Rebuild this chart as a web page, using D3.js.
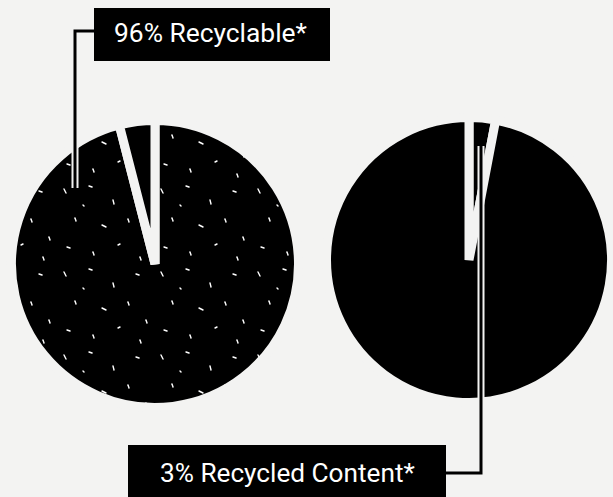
<!DOCTYPE html>
<html><head><meta charset="utf-8">
<script src="https://cdn.jsdelivr.net/npm/d3@7"></script>
<style>
html,body{margin:0;padding:0;background:#f3f3f2;}
svg{display:block;}
</style></head>
<body>
<svg id="chart" width="613" height="497"></svg>
<script>
// Data
const pieNames = ["Recyclable", "Recycled Content"];
const recyclableValues = [96, 4];       // left pie: recyclable, not recyclable
const recycledValues = [3, 97];         // right pie: recycled content, virgin
const labelTexts = ["96% Recyclable*", "3% Recycled Content*"];

const svg = d3.select("#chart");
const W = 613, H = 497;
const BG = "#f3f3f2";

svg.append("rect").attr("width", W).attr("height", H).attr("fill", BG);

// speckle texture pattern (decorative, fixed)
const defs = svg.append("defs");
const pat = defs.append("pattern").attr("id", "speckle")
  .attr("patternUnits", "userSpaceOnUse").attr("width", 97).attr("height", 83);
pat.append("rect").attr("width", 97).attr("height", 83).attr("fill", "#000");
const dashes = [[6,8,8,12],[31,5,34,6],[55,19,56,23],[78,10,81,11],[17,37,18,40],[44,44,48,46],
  [70,38,71,41],[88,56,89,59],[9,66,12,67],[35,71,36,74],[60,64,62,63],[82,76,83,79],[25,24,26,25]];
dashes.forEach(d => pat.append("line").attr("x1", d[0]).attr("y1", d[1]).attr("x2", d[2]).attr("y2", d[3])
  .attr("stroke", "#fff").attr("stroke-width", 1.4).attr("stroke-linecap", "round"));

const pie = d3.pie().sort(null).value(d => d);
const GAP = 9;

function drawPie(values, cx, cy, r, fills) {
  const arc = d3.arc().innerRadius(0).outerRadius(r + GAP / 2);
  const g = svg.append("g").attr("transform", `translate(${cx},${cy})`);
  g.selectAll("path").data(pie(values)).join("path")
    .attr("d", arc)
    .attr("fill", (d, i) => fills[i])
    .attr("stroke", BG)
    .attr("stroke-width", GAP)
    .attr("stroke-linejoin", "miter");
}

drawPie(recyclableValues, 155, 264, 139, ["url(#speckle)", "#000"]);
drawPie(recycledValues, 469, 260, 138, ["#000", "#000"]);

// leader lines
function leader(d) {
  svg.append("path").attr("d", d).attr("fill", "none").attr("stroke", BG).attr("stroke-width", 7);
  svg.append("path").attr("d", d).attr("fill", "none").attr("stroke", "#000").attr("stroke-width", 3);
}
leader("M75,188 V31 H96");
leader("M481,146 V473 H444");

// label boxes
function labelBox(text, x, y, w, h, tx, ty, tw) {
  svg.append("rect").attr("x", x).attr("y", y).attr("width", w).attr("height", h).attr("fill", "#000");
  const t = svg.append("text").attr("x", tx).attr("y", ty).attr("fill", "#fff")
    .attr("font-family", "Roboto, 'Noto Sans', sans-serif").attr("font-size", 24).text(text);
  const len = t.node().getComputedTextLength();
  t.attr("font-size", 24 * tw / len);
}
labelBox(labelTexts[0], 94, 8, 236, 53, 114, 42, 193);
labelBox(labelTexts[1], 128, 445, 318, 52, 160, 482, 255);
</script>
</body></html>
